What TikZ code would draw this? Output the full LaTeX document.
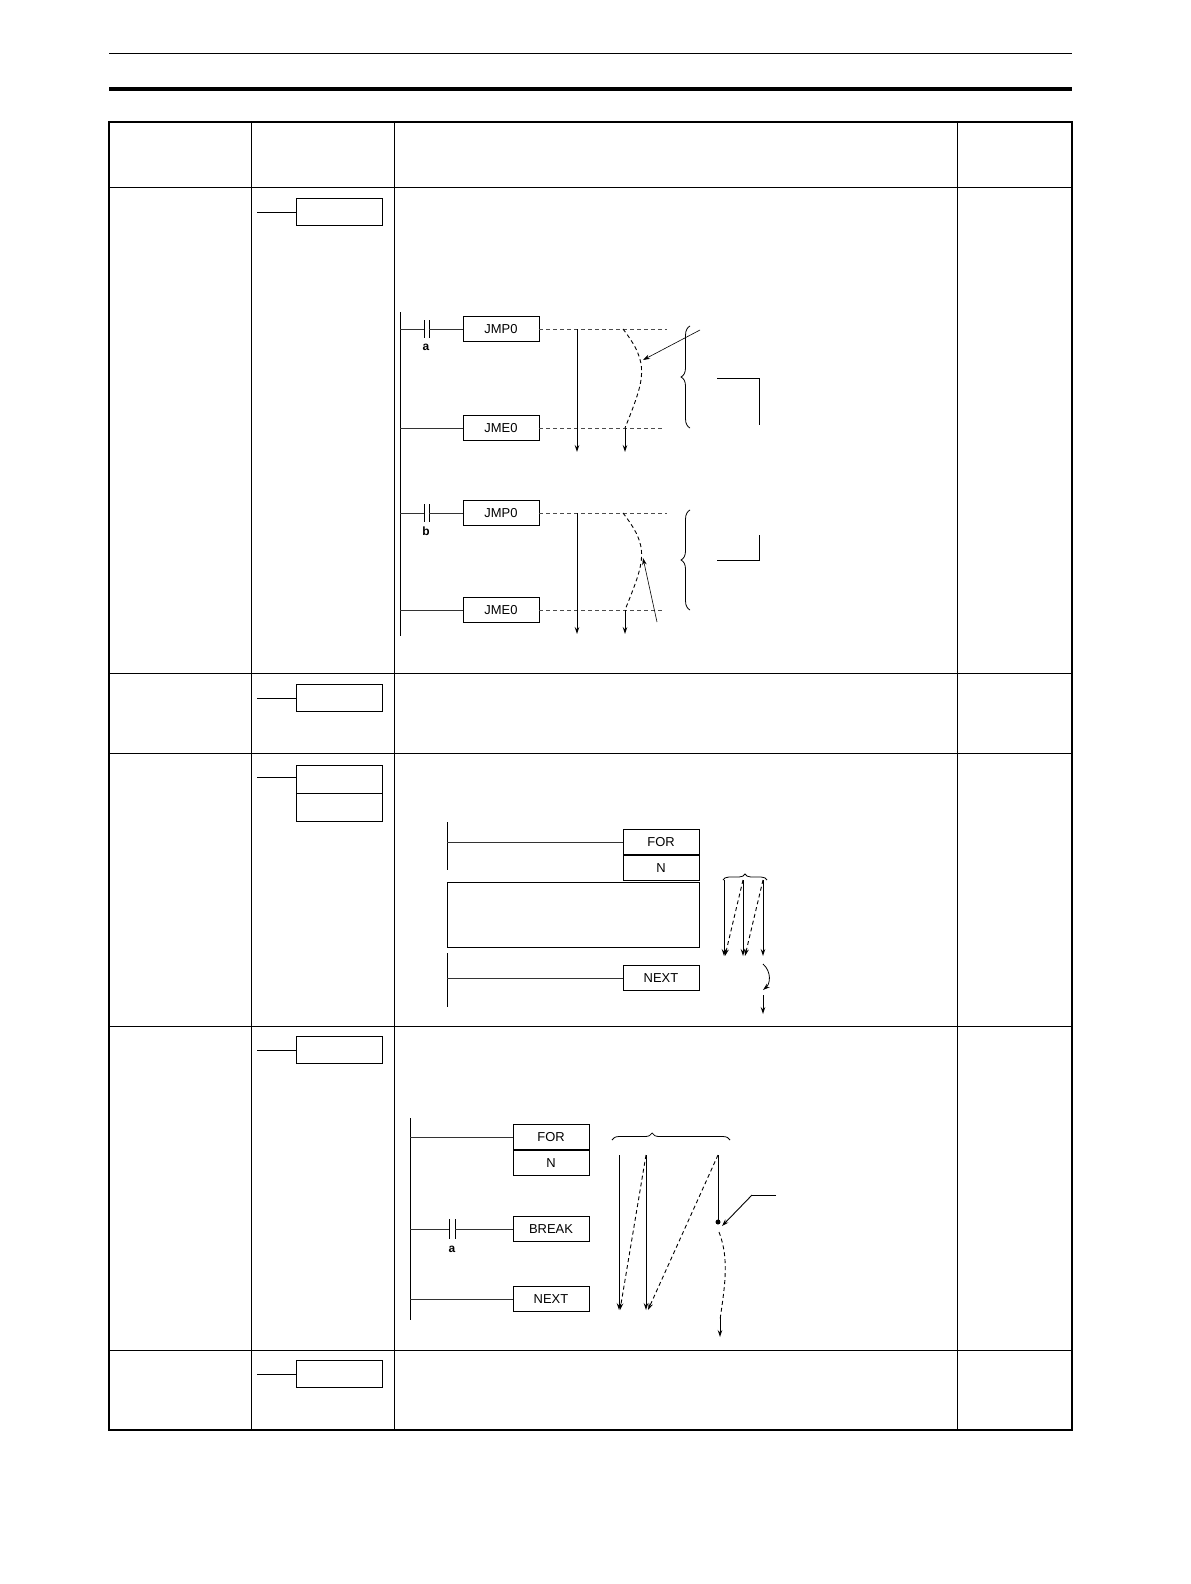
\documentclass[tikz,border=0pt]{standalone}
\usepackage{fontspec}
\setmainfont{Liberation Sans}
\usetikzlibrary{decorations.pathreplacing,arrows.meta}
\begin{document}
\begin{tikzpicture}[x=1bp,y=-1bp,
  ln/.style={line width=0.9pt,black!80},
  ibox/.style={draw,line width=0.9pt,minimum width=86bp,minimum height=27bp,inner sep=0pt},
  lbox/.style={draw,line width=0.9pt,minimum width=76bp,minimum height=25bp,inner sep=0pt,font=\fontsize{13}{15}\selectfont},
  dsh/.style={dashed,dash pattern=on 4pt off 3pt,line width=0.9pt},
  arr/.style={-{Stealth[length=7pt,width=4.5pt]},line width=0.8pt},
  lab/.style={font=\bfseries\fontsize{12}{14}\selectfont,inner sep=0pt},
  brc/.style={decorate,decoration={brace,amplitude=9pt},line width=0.8pt}]
\useasboundingbox (0,0) rectangle (1190,1584);
% header
\draw[line width=1pt] (109,53) -- (1072,53);
\draw[line width=5pt] (109,89) -- (1072,89);
% table
\draw[line width=1.5pt] (109,122) rectangle (1072,1430);
\foreach \x in {251,394,957} \draw[line width=1pt] (\x,122) -- (\x,1430);
\foreach \y in {187,673,753,1026,1350} \draw[line width=1pt] (109,\y) -- (1072,\y);
% instruction boxes
\foreach \n/\y in {i1/212,i2/698,i4/1050,i5/1374}{
  \node[ibox] (\n) at (339,\y) {};
  \draw[line width=0.9pt] (257,\y) -- (\n.west);}
\node[ibox,minimum height=28bp] (i3a) at (339,779) {};
\node[ibox,minimum height=28bp,anchor=north] (i3b) at (i3a.south) {};
\draw[line width=0.9pt] (257,777) -- (296,777);
% ===== JMP/JME =====
\draw[line width=0.9pt] (400,312) -- (400,636);
\foreach \yy/\ye/\c/\n in {329/428/a/1,513/610/b/2}{
  \node[lbox] (jmp\n) at (501,\yy) {JMP0};
  \node[lbox] (jme\n) at (501,\ye) {JME0};
  \draw[ln] (400,\yy) -- (424,\yy);
  \draw[line width=1pt] (424,\yy-9) -- (424,\yy+9) (429,\yy-9) -- (429,\yy+9);
  \draw[ln] (429,\yy) -- (jmp\n.west);
  \node[lab] at (426,\yy+18) {\c};
  \draw[ln] (400,\ye) -- (jme\n.west);
  \draw[dsh,black!70] (jmp\n.east) -- (667,\yy);
  \draw[dsh,black!70] (jme\n.east) -- (664,\ye);
  \draw[arr] (577,\yy) -- (577,\ye+24);
  \coordinate (cs\n) at (623,\yy);
  \coordinate (ce\n) at (625,\ye);
  \draw[dsh] (cs\n) .. controls (650,\yy+35) and (645,\ye-50) .. (ce\n);
  \draw[arr] (ce\n) -- (625,\ye+24);
}
\coordinate (p1) at (700,330); \coordinate (q1) at (643,360);
\draw[arr,line width=0.6pt] (p1) -- (q1);
\coordinate (p2) at (657,622); \coordinate (q2) at (643,558);
\draw[arr,line width=0.6pt] (p2) -- (q2);
\draw[brc] (690,428) -- (690,326);
\draw[brc] (690,610) -- (690,510);
\draw[line width=0.8pt] (717,378) -- (759,378) -- (759,425);
\draw[line width=0.8pt] (717,560) -- (759,560) -- (759,535);
% ===== FOR/NEXT =====
\node[lbox] (for1) at (661,842) {FOR};
\node[lbox,anchor=north] (n1) at (for1.south) {N};
\node[lbox] (next1) at (661,978) {NEXT};
\draw[line width=0.9pt] (447,822) -- (447,870);
\draw[ln] (447,842) -- (for1.west);
\draw[line width=0.9pt] (447,882) rectangle (699,947);
\draw[line width=0.9pt] (447,953) -- (447,1007);
\draw[ln] (447,978) -- (next1.west);
\draw[brc,decoration={amplitude=6pt}] (723,880) -- (767,880);
\draw[arr] (724,880) -- (724,956);
\draw[arr,dsh] (743,880) -- (725,956);
\draw[arr] (743,880) -- (743,956);
\draw[arr,dsh] (763,880) -- (745,956);
\draw[arr] (763,880) -- (763,956);
\coordinate (r1) at (763,964);
\draw[arr] (r1) .. controls (772,972) and (770,984) .. (763,990);
\draw[arr] (763,995) -- (763,1014);
% ===== BREAK =====
\node[lbox] (for2) at (551,1137) {FOR};
\node[lbox,anchor=north] (n2) at (for2.south) {N};
\node[lbox] (brk) at (551,1229) {BREAK};
\node[lbox] (next2) at (551,1299) {NEXT};
\draw[line width=0.9pt] (410,1118) -- (410,1320);
\draw[ln] (410,1137) -- (for2.west);
\draw[ln] (410,1229) -- (449,1229);
\draw[line width=1pt] (449,1219) -- (449,1239) (455,1219) -- (455,1239);
\draw[ln] (455,1229) -- (brk.west);
\node[lab] at (452,1249) {a};
\draw[ln] (410,1299) -- (next2.west);
\draw[brc,decoration={amplitude=7pt,aspect=0.34}] (612,1140) -- (730,1140);
\draw[arr] (619,1155) -- (619,1310);
\draw[arr,dsh] (646,1155) -- (620,1310);
\draw[arr] (646,1155) -- (646,1310);
\draw[arr,dsh] (718,1155) -- (648,1310);
\draw[line width=0.8pt] (718,1155) -- (718,1220);
\fill (718,1222) circle (2.5pt);
\draw[dsh] (719,1232) .. controls (730,1260) and (724,1290) .. (720,1320);
\draw[arr] (720,1318) -- (720,1337);
\draw[line width=0.8pt] (776,1195) -- (752,1195);
\draw[arr,line width=0.9pt] (752,1195) -- (722,1226);
\end{tikzpicture}
\end{document}
